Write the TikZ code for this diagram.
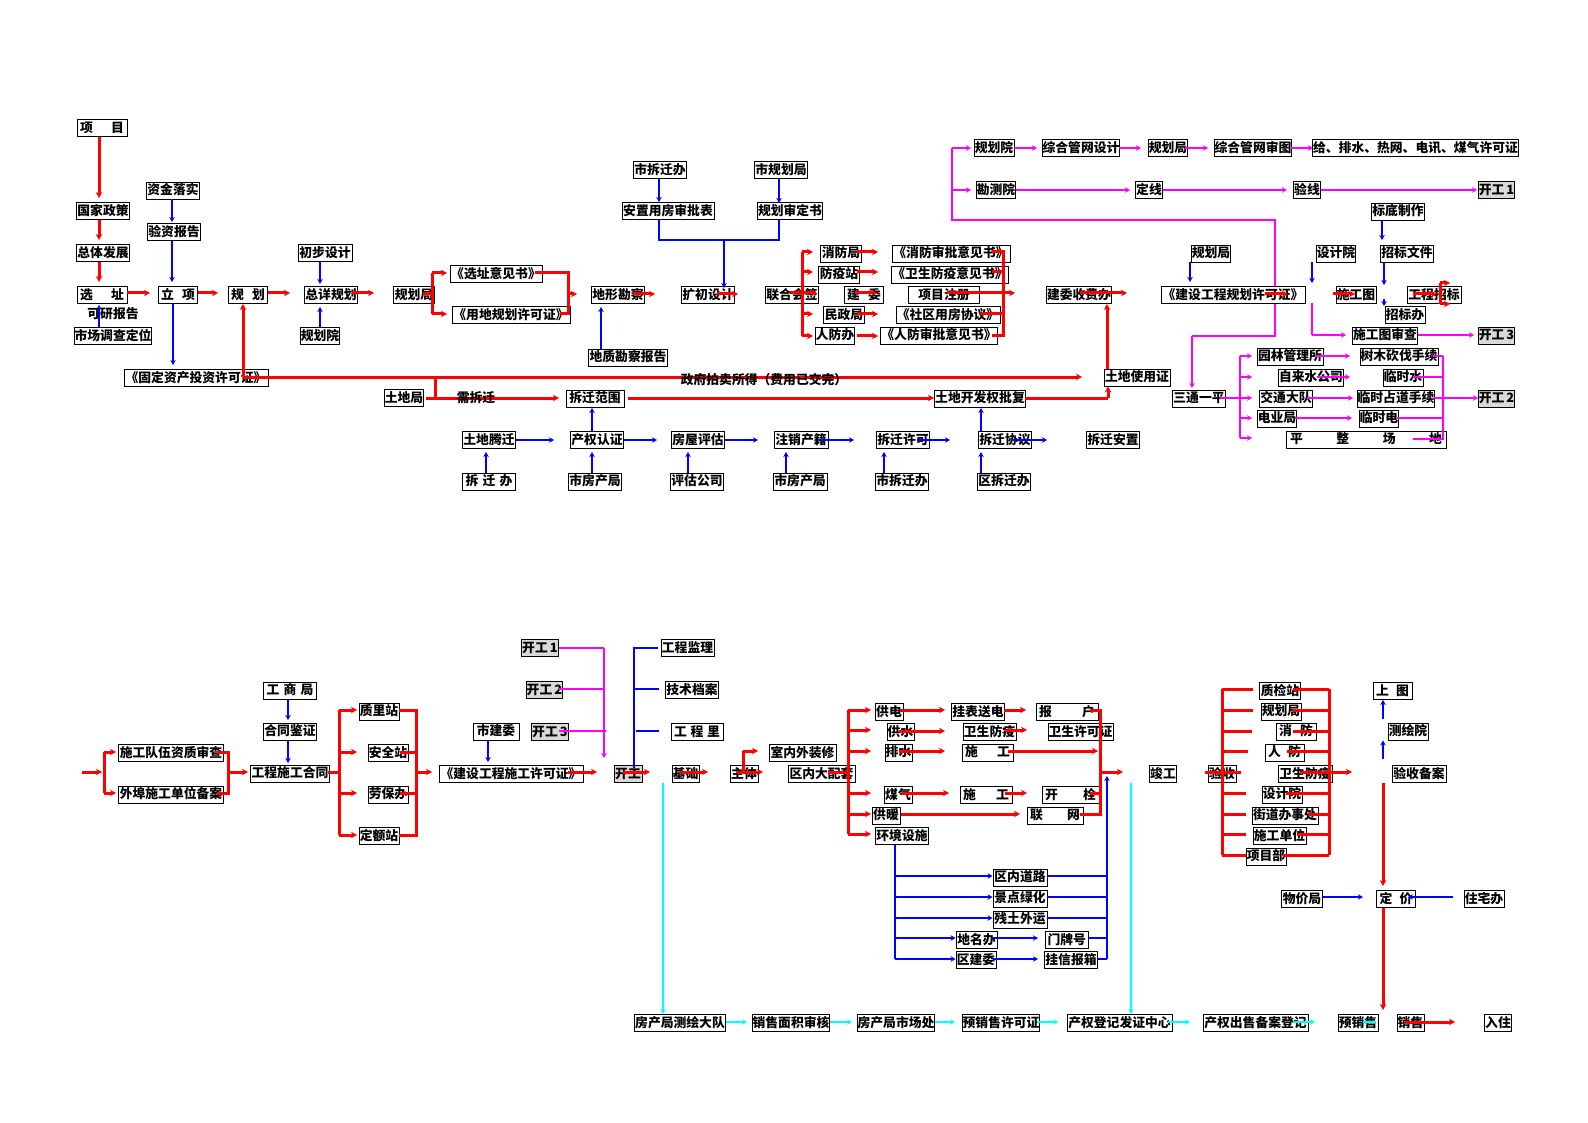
\documentclass[tikz,border=0pt]{standalone}
\usepackage{fontspec}
\newfontfamily\cjk{Noto Sans CJK SC}
\usetikzlibrary{arrows.meta}
\definecolor{mg}{RGB}{255,0,255}
\definecolor{cy}{RGB}{0,255,255}
\definecolor{rd}{RGB}{255,0,0}
\definecolor{bl}{RGB}{0,0,255}
\newcommand\spr[2]{\makebox[#1pt][s]{#2}}
\begin{document}
\begin{tikzpicture}[x=1pt,y=-1pt,
 bx/.style={draw=black,line width=0.9pt,fill=white,inner xsep=0.5pt,inner ysep=0pt,minimum height=17pt,text height=10.5pt,text depth=2pt,font=\cjk\bfseries\fontsize{12.8}{13}\selectfont},
 gb/.style={bx,fill=black!15},
 tx/.style={inner sep=0pt,font=\cjk\bfseries\fontsize{12.8}{13}\selectfont},
 Rl/.style={draw=rd,line width=3pt},
 R/.style={Rl,-{Stealth[length=6pt,width=6.5pt]}},
 Bl/.style={draw=bl,line width=2.2pt},
 B/.style={Bl,-{Stealth[length=5pt,width=5.5pt]}},
 Ml/.style={draw=mg,line width=2.2pt},
 M/.style={Ml,-{Stealth[length=5pt,width=5.5pt]}},
 Cl/.style={draw=cy,line width=2.2pt},
 C/.style={Cl,-{Stealth[length=5pt,width=5.5pt]}}]
\useasboundingbox (0,0) rectangle (1588,1123);
\fill[white] (0,0) rectangle (1588,1123);

% background magenta route
\draw[Ml] (952,148) -- (952,220) -- (1275,220) -- (1275,336) -- (1192,336);
\draw[M] (1192,336) -- (1192,388);

% ---------------- top left
\node[bx,minimum width=50pt] (xm) at (102,128) {\spr{44}{项\hfill 目}};
\node[bx,minimum width=52pt] (gjzc) at (103,211) {国家政策};
\node[bx,minimum width=52pt] (ztfz) at (103,253) {总体发展};
\node[bx,minimum width=50pt] (xz) at (102,295) {\spr{44}{选\hfill 址}};
\node[tx] (kybg) at (113,314) {可研报告};
\node[bx,minimum width=73pt] (scdc) at (113,336) {市场调查定位};
\node[bx,minimum width=51pt] (zjls) at (173,190.5) {资金落实};
\node[bx,minimum width=53pt] (yzbg) at (174,232) {验资报告};
\node[bx,minimum width=39pt] (lx) at (178,295) {\spr{34}{立\hfill 项}};
\node[bx,minimum width=39pt] (gh) at (248,295) {\spr{34}{规\hfill 划}};
\node[bx,minimum width=54pt] (cbsj) at (325,253) {初步设计};
\node[bx,minimum width=53pt] (zxgh) at (331,295) {总详规划};
\node[bx,minimum width=38pt] (ghy1) at (320,336) {规划院};
\node[bx,minimum width=41pt] (ghj1) at (414,295) {规划局};
\node[bx,minimum width=92pt] (xzyj) at (496,274) {《选址意见书》};
\node[bx,minimum width=118pt] (ydgh) at (511,315) {《用地规划许可证》};
\node[bx,minimum width=144pt] (gdzc) at (196,378) {《固定资产投资许可证》};

% ---------------- top middle
\node[bx,minimum width=53pt] (scqb1) at (660,170) {市拆迁办};
\node[bx,minimum width=92pt] (azyf) at (668,211) {安置用房审批表};
\node[bx,minimum width=52pt] (sghj) at (781,170) {市规划局};
\node[bx,minimum width=64pt] (ghsd) at (790,211) {规划审定书};
\node[bx,minimum width=53pt] (dxkc) at (618,295) {地形勘察};
\node[bx,minimum width=52pt] (kcsj) at (708,295) {扩初设计};
\node[bx,minimum width=79pt] (dzkc) at (628,357.5) {地质勘察报告};
\node[bx,minimum width=52pt] (lhhq) at (792,295) {联合会签};
\node[bx,minimum width=41pt] (xfj) at (841,253.5) {消防局};
\node[bx,minimum width=41pt] (fyz) at (839,274.5) {防疫站};
\node[bx,minimum width=39pt] (jw) at (864,295) {\spr{34}{建\hfill 委}};
\node[bx,minimum width=41pt] (mzj) at (844,315) {民政局};
\node[bx,minimum width=38pt] (rfb) at (835,335.5) {人防办};
\node[bx,minimum width=118pt] (xfsp) at (951,253.5) {《消防审批意见书》};
\node[bx,minimum width=117pt] (wsfy) at (950,274.5) {《卫生防疫意见书》};
\node[bx,minimum width=71pt] (xmzc) at (944,295) {项目注册};
\node[bx,minimum width=104pt] (sqyf) at (948,315) {《社区用房协议》};
\node[bx,minimum width=106pt] (rfsp) at (939,335.5) {《人防审批意见书》};
\node[bx,minimum width=65pt] (jwsf) at (1079,295) {建委收费办};
\node[bx,minimum width=66pt] (tdsy) at (1137,377.5) {土地使用证};
\node[bx,minimum width=39pt] (tdj) at (404,398) {土地局};
\node[bx,minimum width=58pt] (cqfw) at (595,398.5) {拆迁范围};
\node[bx,minimum width=89pt] (tdkf) at (980,398.5) {土地开发权批复};
\node[bx,minimum width=53pt] (tdtq) at (489,440) {土地腾迁};
\node[bx,minimum width=53pt] (cqrz) at (597,440) {产权认证};
\node[bx,minimum width=53pt] (fwpg) at (698,440) {房屋评估};
\node[bx,minimum width=54pt] (zxcj) at (801,440) {注销产籍};
\node[bx,minimum width=53pt] (cqxk) at (903,440) {拆迁许可};
\node[bx,minimum width=53pt] (cqxy) at (1005,440) {拆迁协议};
\node[bx,minimum width=53pt] (cqaz) at (1113,440) {拆迁安置};
\node[bx,minimum width=53pt] (cqb) at (489,481.5) {\spr{47}{拆\hfill 迁\hfill 办}};
\node[bx,minimum width=53pt] (sfcj1) at (595,481.5) {市房产局};
\node[bx,minimum width=53pt] (pggs) at (697,481.5) {评估公司};
\node[bx,minimum width=54pt] (sfcj2) at (800,481.5) {市房产局};
\node[bx,minimum width=52pt] (scqb2) at (902,481.5) {市拆迁办};
\node[bx,minimum width=53pt] (qcqb) at (1004,481.5) {区拆迁办};

% ---------------- top right
\node[bx,minimum width=40pt] (ghy2) at (994,148) {规划院};
\node[bx,minimum width=76pt] (zhgw) at (1081,148) {综合管网设计};
\node[bx,minimum width=39pt] (ghj2) at (1168,148) {规划局};
\node[bx,minimum width=77pt] (zhst) at (1253,148) {综合管网审图};
\node[bx,minimum width=193pt] (gps) at (1415.5,148) {给、排水、热网、电讯、煤气许可证};
\node[bx,minimum width=39pt] (kcy) at (996,190) {勘测院};
\node[bx,minimum width=26pt] (dx) at (1149,190) {定线};
\node[bx,minimum width=26pt] (yx) at (1307,190) {验线};
\node[gb,minimum width=31pt] (kg1) at (1496.5,190) {开工\,1};
\node[bx,minimum width=53pt] (bdzz) at (1398,211.5) {标底制作};
\node[bx,minimum width=53pt] (zbwj) at (1407,253.5) {招标文件};
\node[bx,minimum width=38pt] (sjy1) at (1336,253.5) {设计院};
\node[bx,minimum width=39pt] (ghj3) at (1211,253.5) {规划局};
\node[bx,minimum width=144pt] (jsgh) at (1233,295) {《建设工程规划许可证》};
\node[bx,minimum width=40pt] (sgt) at (1356,295) {施工图};
\node[bx,minimum width=54pt] (gczb) at (1434,295) {工程招标};
\node[bx,minimum width=40pt] (zbb) at (1405,315) {招标办};
\node[bx,minimum width=60pt] (sgtsc) at (1385,335.5) {施工图审查};
\node[gb,minimum width=31pt] (kg3) at (1496.5,335.5) {开工\,3};
\node[bx,minimum width=53pt] (stxp) at (1199,398.5) {三通一平};
\node[bx,minimum width=66pt] (ylgl) at (1290,356.5) {园林管理所};
\node[bx,minimum width=62pt] (zls) at (1311,377.5) {自来水公司};
\node[bx,minimum width=53pt] (jtdd) at (1286,398.5) {交通大队};
\node[bx,minimum width=39pt] (dyj) at (1277,418.5) {电业局};
\node[bx,minimum width=160pt] (pzcd) at (1366,439.5) {\spr{152}{平\hfill 整\hfill 场\hfill 地}};
\node[bx,minimum width=78pt] (smkf) at (1399,356.5) {树木砍伐手续};
\node[bx,minimum width=40pt] (lss) at (1403,377.5) {临时水};
\node[bx,minimum width=75pt] (lszd) at (1396,398.5) {临时占道手续};
\node[bx,minimum width=39pt] (lsd) at (1379,418.5) {临时电};
\node[gb,minimum width=31pt] (kg2) at (1496.5,398.5) {开工\,2};

% ---------------- bottom
\node[bx,minimum width=105pt] (sgdw) at (171,753) {施工队伍资质审查};
\node[bx,minimum width=105pt] (wbsg) at (171,794.5) {外埠施工单位备案};
\node[bx,minimum width=53pt] (gsj) at (290,690.5) {\spr{47}{工\hfill 商\hfill 局}};
\node[bx,minimum width=53pt] (htjz) at (290,731.5) {合同鉴证};
\node[bx,minimum width=79pt] (gcht) at (290,773.5) {工程施工合同};
\node[bx,minimum width=40pt] (zlz) at (379,711.5) {质里站};
\node[bx,minimum width=40pt] (aqz) at (388,753) {安全站};
\node[bx,minimum width=40pt] (lbb) at (388,794.5) {劳保办};
\node[bx,minimum width=40pt] (dez) at (379,836) {定额站};
\node[bx,minimum width=144pt] (jssg) at (511,774) {《建设工程施工许可证》};
\node[gb,minimum width=36pt] (kgb1) at (540,648) {开工\,1};
\node[gb,minimum width=35pt] (kgb2) at (544.5,690) {开工\,2};
\node[gb,minimum width=36pt] (kgb3) at (550,732) {开工\,3};
\node[bx,minimum width=46pt] (sjw) at (496,731.5) {市建委};
\node[gb,minimum width=28pt] (kg) at (628,774) {开工};
\node[bx,minimum width=53pt] (gcjl) at (687.5,648) {工程监理};
\node[bx,minimum width=52pt] (jsda) at (692,690) {技术档案};
\node[bx,minimum width=52pt] (gcl) at (697,732) {\spr{46}{工\hfill 程\hfill 里}};
\node[bx,minimum width=27pt] (jc) at (685.5,774) {基础};
\node[bx,minimum width=28pt] (zt) at (744,774) {主体};
\node[bx,minimum width=67pt] (snwz) at (802.5,753) {室内外装修};
\node[bx,minimum width=67pt] (qndpt) at (821.5,774) {区内大配套};
\node[bx,minimum width=28pt] (gd) at (889,712) {供电};
\node[bx,minimum width=27pt] (gs) at (900.5,732) {供水};
\node[bx,minimum width=27pt] (ps) at (898.5,752.5) {排水};
\node[bx,minimum width=28pt] (mq) at (898,795) {煤气};
\node[bx,minimum width=28pt] (gn) at (886,815.5) {供暖};
\node[bx,minimum width=52pt] (hjss) at (902,836) {环境设施};
\node[bx,minimum width=52pt] (gbsd) at (978,712) {挂表送电};
\node[bx,minimum width=53pt] (wsfy2) at (989.5,732) {卫生防疫};
\node[bx,minimum width=51pt] (sg1) at (987.5,752.5) {\spr{45}{施\hfill 工}};
\node[bx,minimum width=52pt] (sg2) at (986,795) {\spr{46}{施\hfill 工}};
\node[bx,minimum width=62pt] (bh) at (1067,712) {\spr{56}{报\hfill 户}};
\node[bx,minimum width=65pt] (wsxk) at (1080.5,732) {卫生许可证};
\node[bx,minimum width=57pt] (ks) at (1070.5,795) {\spr{51}{开\hfill 栓}};
\node[bx,minimum width=56pt] (lw) at (1055,815.5) {\spr{50}{联\hfill 网}};
\node[bx,minimum width=54pt] (qndl) at (1020,877.5) {区内道路};
\node[bx,minimum width=54pt] (jdlh) at (1020,898.5) {景点绿化};
\node[bx,minimum width=54pt] (ctwy) at (1020,919.5) {残土外运};
\node[bx,minimum width=41pt] (dmb) at (976.5,940) {地名办};
\node[bx,minimum width=43pt] (mph) at (1066.5,940) {\spr{38}{门\hfill 牌\hfill 号}};
\node[bx,minimum width=40pt] (qjw) at (976,960) {区建委};
\node[bx,minimum width=53pt] (gxbx) at (1071,960) {挂信报箱};
\node[bx,minimum width=27pt] (jg) at (1163,774) {竣工};
\node[bx,minimum width=28pt] (ys) at (1222,774) {验收};
\node[bx,minimum width=41pt] (zjz) at (1280,691) {质检站};
\node[bx,minimum width=40pt] (ghj4) at (1281,711.5) {规划局};
\node[bx,minimum width=40pt] (xf) at (1296,731.5) {\spr{34}{消\hfill 防}};
\node[bx,minimum width=39pt] (rf) at (1284.5,752.5) {\spr{33}{人\hfill 防}};
\node[bx,minimum width=54pt] (wsfy3) at (1305,774) {卫生防疫};
\node[bx,minimum width=40pt] (sjy2) at (1282,794.5) {设计院};
\node[bx,minimum width=66pt] (jdbs) at (1285,815.5) {街道办事处};
\node[bx,minimum width=53pt] (sgdw2) at (1279.5,836) {施工单位};
\node[bx,minimum width=40pt] (xmb) at (1266,856.5) {项目部};
\node[bx,minimum width=39pt] (st) at (1392.5,691) {\spr{33}{上\hfill 图}};
\node[bx,minimum width=40pt] (chy) at (1408,731.5) {测绘院};
\node[bx,minimum width=54pt] (ysba) at (1419,774) {验收备案};
\node[bx,minimum width=41pt] (wjj) at (1302,899) {物价局};
\node[bx,minimum width=39pt] (dj) at (1396,899) {\spr{33}{定\hfill 价}};
\node[bx,minimum width=40pt] (zzb) at (1484,899) {住宅办};
\node[bx,minimum width=89pt] (fcch) at (680,1023) {房产局测绘大队};
\node[bx,minimum width=76pt] (xsmj) at (791,1023) {销售面积审核};
\node[bx,minimum width=76pt] (fcsc) at (896,1023) {房产局市场处};
\node[bx,minimum width=76pt] (yxsxk) at (1001,1023) {预销售许可证};
\node[bx,minimum width=105pt] (cqdj) at (1119.5,1023) {产权登记发证中心};
\node[bx,minimum width=105pt] (cqcs) at (1255.5,1023) {产权出售备案登记};
\node[bx,minimum width=40pt] (yxs) at (1358,1023) {预销售};
\node[bx,minimum width=27pt] (xs) at (1410.5,1023) {销售};
\node[bx,minimum width=27pt] (rz) at (1498,1023) {入住};

% ================= connectors: top red
\draw[R] (xm.south -| 99,0) -- (99,198);
\draw[R] (gjzc.south -| 99,0) -- (99,240);
\draw[R] (ztfz.south -| 99,0) -- (99,282);
\draw[R] (xz.east |- 0,293) -- (150,293);
\draw[R] (lx.east |- 0,293) -- (218,293);
\draw[R] (gh.east |- 0,293) -- (290,293);
\draw[R] (352,293) -- (374,293);
\draw[Rl] (423,294) -- (432,294);
\draw[Rl] (432,273) -- (432,314);
\draw[R] (432,273) -- (447,273);
\draw[R] (432,314) -- (447,314);
\draw[Rl] (535,273) -- (568,273) -- (568,314) -- (560,314);
\draw[R] (568,294) -- (577,294);
\draw[R] (633,294) -- (655,294);
\draw[R] (717,294) -- (738,294);
\draw[R] (790,293) -- (817,293);
\draw[Rl] (802,252) -- (802,336);
\draw[R] (802,252) -- (813,252);
\draw[R] (802,272) -- (813,272);
\draw[R] (802,314) -- (813,314);
\draw[R] (802,336) -- (813,336);
\draw[R] (857,252) -- (878,252);
\draw[R] (857,272) -- (878,272);
\draw[R] (857,314) -- (878,314);
\draw[R] (857,336) -- (878,336);
\draw[R] (855,293) -- (877,293);
\draw[Rl] (992,252) -- (1003,252) -- (1003,336) -- (992,336);
\draw[Rl] (992,272) -- (1003,272);
\draw[Rl] (980,314) -- (1003,314);
\draw[R] (947,293) -- (1015,293);
\draw[R] (1080,293) -- (1127,293);
\draw[R] (1107,369) -- (jwsf.south -| 1107,0);
\draw[R] (243,377) -- (1082,377);
\draw[R] (243,377) -- (gh.south -| 243,0);
\draw[Rl] (435,377) -- (435,398);
\draw[R] (426,398) -- (559,398);
\draw[R] (628,398) -- (934,398);
\draw[Rl] (1025,398) -- (1108,398);
\draw[R] (1108,398) -- (tdsy.south -| 1108,0);
\draw[R] (1265,294) -- (1288,294);
\draw[R] (1333,294) -- (1355,294);
\draw[R] (1413,294) -- (1437,294);
\draw[Rl] (1440,283) -- (1440,304);
\draw[R] (1440,283) -- (1450,283);
\draw[R] (1440,304) -- (1450,304);

% top blue
\draw[B] (zjls.south -| 172,0) -- (172,222);
\draw[B] (yzbg.south -| 172,0) -- (172,282);
\draw[B] (lx.south -| 173,0) -- (173,365);
\draw[B] (scdc.north -| 99,0) -- (99,305);
\draw[B] (cbsj.south -| 320,0) -- (320,284);
\draw[B] (ghy1.north) -- (320,307);
\draw[B] (scqb1.south -| 659,0) -- (659,202);
\draw[B] (sghj.south -| 779,0) -- (779,203);
\draw[Bl] (azyf.south -| 659,0) -- (659,240) -- (779,240) -- (ghsd.south -| 779,0);
\draw[B] (724,240) -- (724,288);
\draw[B] (dzkc.north -| 601,0) -- (601,307);
\draw[B] (ghj3.south -| 1190,0) -- (1190,282);
\draw[B] (sjy1.south -| 1312,0) -- (1312,283);
\draw[B] (bdzz.south -| 1382,0) -- (1382,240);
\draw[B] (zbwj.south -| 1384,0) -- (1384,285);
\draw[B] (1384,299) -- (1384,306);
\draw[B] (tdtq.east) -- (554,440);
\draw[B] (cqrz.east) -- (657,440);
\draw[B] (fwpg.east) -- (758,440);
\draw[B] (819,440) -- (854,440);
\draw[B] (917,440) -- (950,440);
\draw[B] (1013,440) -- (1047,440);
\foreach \xx/\nn in {486/cqb,592/sfcj1,688/pggs,786/sfcj2,884/scqb2,981/qcqb}
  \draw[B] (\nn.north -| \xx,0) -- (\xx,452);
\draw[B] (cqrz.north -| 592,0) -- (592,408);
\draw[B] (cqxy.north -| 981,0) -- (981,408);

% top magenta
\draw[M] (952,148) -- (971,148);
\draw[M] (952,190) -- (971,190);
\draw[M] (ghy2.east) -- (1037,148);
\draw[M] (1119,148) -- (1141,148);
\draw[M] (1185,148) -- (1208,148);
\draw[M] (1291,148) -- (1313,148);
\draw[M] (kcy.east) -- (1130,190);
\draw[M] (dx.east) -- (1287,190);
\draw[M] (yx.east) -- (1477,190);
\draw[Ml] (1312,303) -- (1312,335);
\draw[M] (1312,335) -- (1346,335);
\draw[M] (sgtsc.east |- 0,335) -- (1474,335);
\draw[Ml] (1220,398) -- (1240,398);
\draw[Ml] (1240,356) -- (1240,438);
\foreach \yy in {356,377,398,418,438} \draw[M] (1240,\yy) -- (1252,\yy);
\draw[M] (1315,356) -- (1350,356);
\draw[M] (1317,377) -- (1350,377);
\draw[M] (1307,398) -- (1353,398);
\draw[M] (1295,418) -- (1352,418);
\draw[Ml] (1443,356) -- (1443,440);
\draw[Ml] (1433,356) -- (1443,356);
\draw[Ml] (1413,377) -- (1443,377);
\draw[Ml] (1397,418) -- (1443,418);
\draw[Ml] (1413,439) -- (1443,439);
\draw[M] (1433,398) -- (1478,398);

% ================= bottom red
\draw[R] (82,772) -- (102,772);
\draw[Rl] (104,752) -- (104,793);
\draw[R] (104,752) -- (116,752);
\draw[R] (104,793) -- (116,793);
\draw[Rl] (217,752) -- (228,752) -- (228,793) -- (217,793);
\draw[R] (228,772) -- (248,772);
\draw[Rl] (328,772) -- (339,772);
\draw[Rl] (339,710) -- (339,835);
\foreach \yy in {710,752,793,835} \draw[R] (339,\yy) -- (357,\yy);
\draw[Rl] (399,710) -- (416,710) -- (416,835) -- (399,835);
\draw[Rl] (400,752) -- (416,752);
\draw[Rl] (400,793) -- (416,793);
\draw[R] (416,772) -- (432,772);
\draw[R] (568,772) -- (597,772);
\draw[R] (623,772) -- (650,772);
\draw[R] (680,772) -- (708,772);
\draw[Rl] (743,772) -- (743,751);
\draw[R] (743,751) -- (758,751);
\draw[R] (737,772) -- (763,772);
\draw[Rl] (828,772) -- (848,772);
\draw[Rl] (848,710) -- (848,834);
\foreach \yy in {710,730,751,793,814,834} \draw[R] (848,\yy) -- (871,\yy);
\draw[R] (900,710) -- (945,710);
\draw[R] (1004,710) -- (1026,710);
\draw[R] (899,731) -- (945,731);
\draw[R] (1005,730) -- (1027,730);
\draw[R] (899,751) -- (945,751);
\draw[R] (1008,751) -- (1098,751);
\draw[R] (902,793) -- (949,793);
\draw[R] (1005,793) -- (1027,793);
\draw[R] (901,814) -- (1020,814);
\draw[Rl] (1090,710) -- (1100,710) -- (1100,814) -- (1080,814);
\draw[Rl] (1090,793) -- (1100,793);
\draw[R] (1100,772) -- (1123,772);
\draw[Rl] (1205,772) -- (1241,772);
\draw[Rl] (1222,689) -- (1222,855);
\foreach \yy/\xe in {689/1253,710/1253,731/1252,751/1248,793/1246,814/1246,834/1246,855/1246}
  \draw[Rl] (1222,\yy) -- (\xe,\yy);
\draw[Rl] (1329,689) -- (1329,855);
\foreach \yy/\xs in {689/1293,710/1293,731/1293,751/1287,793/1286,814/1308,834/1297,855/1283}
  \draw[Rl] (\xs,\yy) -- (1329,\yy);
\draw[R] (1300,772) -- (1352,772);
\draw[R] (ysba.south -| 1383,0) -- (1383,886);
\draw[R] (dj.south -| 1383,0) -- (1383,1010);
\draw[R] (1404,1022) -- (1455,1022);

% bottom blue
\draw[B] (gsj.south -| 288,0) -- (288,720);
\draw[B] (htjz.south -| 288,0) -- (288,763);
\draw[B] (sjw.south -| 488,0) -- (488,762);
\draw[Bl] (658,648) -- (634,648) -- (634,768);
\draw[Bl] (634,689) -- (659,689);
\draw[Bl] (636,731) -- (659,731);
\draw[Bl] (hjss.south -| 895,0) -- (895,959);
\draw[B] (895,876) -- (qndl.west |- 0,876);
\draw[B] (895,897) -- (jdlh.west |- 0,897);
\draw[B] (895,918) -- (ctwy.west |- 0,918);
\draw[B] (895,938) -- (dmb.west |- 0,938);
\draw[B] (895,959) -- (qjw.west |- 0,959);
\draw[B] (993,938) -- (1038,938);
\draw[B] (993,959) -- (1038,959);
\draw[Bl] (qndl.east |- 0,876) -- (1107,876);
\draw[Bl] (jdlh.east |- 0,897) -- (1107,897);
\draw[Bl] (ctwy.east |- 0,918) -- (1107,918);
\draw[Bl] (mph.east |- 0,938) -- (1107,938);
\draw[Bl] (gxbx.east |- 0,959) -- (1107,959);
\draw[B] (1107,959) -- (1107,776);
\draw[B] (chy.north -| 1383,0) ++(0,-4) -- (st.south -| 1383,0);
\draw[B] (ysba.north -| 1383,0) ++(0,-6) -- (chy.south -| 1383,0);
\draw[B] (wjj.east |- 0,897) -- (1363,897);
\draw[B] (zzb.west |- 0,897) ++(-11,0) -- (1408,897);

% bottom magenta
\draw[Ml] (kgb1.east) -- (604,648);
\draw[Ml] (559,689) -- (604,689);
\draw[Ml] (559,731) -- (606,731);
\draw[M] (604,648) -- (604,758);

% cyan
\draw[C] (663,783) -- (fcch.north -| 663,0);
\draw[C] (1131,783) -- (cqdj.north -| 1131,0);
\draw[C] (fcch.east |- 0,1022) -- (747,1022);
\draw[C] (xsmj.east |- 0,1022) -- (852,1022);
\draw[C] (fcsc.east |- 0,1022) -- (955,1022);
\draw[C] (1037,1022) -- (1058,1022);
\draw[C] (1168,1022) -- (1190,1022);
\draw[C] (1293,1022) -- (1315,1022);
\draw[C] (1376,1022) -- (1362,1022);

% free texts on top of lines
\node[tx] (xcq) at (476,398) {需拆迁};
\node[tx] (zfpm) at (764,380) {政府拍卖所得（费用已交完）};
\end{tikzpicture}
\end{document}
